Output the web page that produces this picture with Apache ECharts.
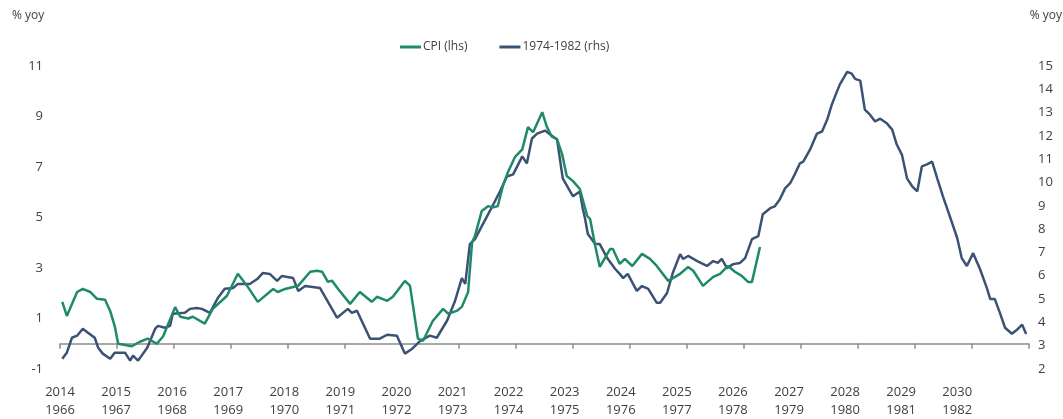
<!DOCTYPE html>
<html>
<head>
<meta charset="utf-8">
<script src="https://cdn.jsdelivr.net/npm/echarts@6/dist/echarts.min.js"></script>
<style>
html,body{margin:0;padding:0;background:#fff;}
#chart{width:1063px;height:419px;}
</style>
</head>
<body>
<div id="chart"></div>
<script>
// Tick labels
var yearsTop = ['2014','2015','2016','2017','2018','2019','2020','2021','2022','2023','2024','2025','2026','2027','2028','2029','2030'];
var yearsBottom = ['1966','1967','1968','1969','1970','1971','1972','1973','1974','1975','1976','1977','1978','1979','1980','1981','1982'];

// CPI (lhs): dates as decimal years, values % yoy
var cpiDates = [2014.04,2014.12,2014.30,2014.40,2014.53,2014.65,2014.79,2014.88,2014.96,2015.02,2015.26,2015.40,2015.54,2015.70,2015.81,2016.02,2016.11,2016.25,2016.33,2016.54,2016.68,2016.93,2017.12,2017.28,2017.47,2017.74,2017.82,2017.95,2018.18,2018.39,2018.51,2018.60,2018.70,2018.77,2018.88,2019.09,2019.26,2019.47,2019.56,2019.74,2019.84,2020.05,2020.14,2020.28,2020.37,2020.54,2020.72,2020.81,2020.96,2021.05,2021.16,2021.23,2021.28,2021.40,2021.51,2021.60,2021.68,2021.77,2021.86,2021.98,2022.11,2022.21,2022.30,2022.46,2022.54,2022.63,2022.72,2022.81,2022.89,2023.00,2023.12,2023.25,2023.30,2023.39,2023.47,2023.65,2023.70,2023.82,2023.91,2024.04,2024.21,2024.35,2024.47,2024.67,2024.88,2025.02,2025.11,2025.28,2025.46,2025.58,2025.72,2025.84,2025.96,2026.07,2026.14,2026.28];
var cpiValues = [1.66,1.1,2.05,2.17,2.05,1.78,1.74,1.3,0.7,0.0,-0.1,0.08,0.2,0.0,0.3,1.45,1.07,1.0,1.07,0.8,1.38,1.9,2.77,2.3,1.66,2.17,2.05,2.17,2.3,2.85,2.89,2.85,2.45,2.5,2.17,1.58,2.05,1.66,1.86,1.7,1.86,2.49,2.3,0.2,0.12,0.9,1.38,1.19,1.3,1.46,2.05,4.03,4.27,5.26,5.45,5.4,5.45,6.25,6.8,7.39,7.7,8.58,8.38,9.17,8.6,8.2,8.1,7.5,6.64,6.44,6.13,5.06,4.94,3.87,3.04,3.75,3.75,3.16,3.36,3.08,3.56,3.36,3.08,2.49,2.77,3.04,2.89,2.29,2.65,2.77,3.08,2.85,2.69,2.45,2.45,3.83];

// 1974-1982 (rhs): same time scale, values % yoy
var histDates = [2014.04,2014.12,2014.21,2014.30,2014.40,2014.49,2014.61,2014.67,2014.75,2014.88,2014.96,2015.14,2015.23,2015.28,2015.37,2015.53,2015.67,2015.72,2015.84,2015.93,2015.98,2016.19,2016.28,2016.40,2016.49,2016.63,2016.77,2016.89,2017.04,2017.12,2017.33,2017.46,2017.56,2017.68,2017.81,2017.89,2018.09,2018.18,2018.30,2018.56,2018.86,2019.05,2019.12,2019.21,2019.44,2019.61,2019.74,2019.91,2020.05,2020.18,2020.32,2020.49,2020.61,2020.79,2020.93,2021.05,2021.11,2021.19,2021.28,2021.54,2021.72,2021.84,2021.95,2022.11,2022.19,2022.28,2022.37,2022.51,2022.60,2022.72,2022.82,2022.95,2023.00,2023.12,2023.17,2023.21,2023.26,2023.39,2023.47,2023.60,2023.74,2023.82,2023.88,2023.96,2024.12,2024.21,2024.32,2024.47,2024.53,2024.65,2024.75,2024.88,2024.93,2025.02,2025.18,2025.35,2025.46,2025.54,2025.61,2025.70,2025.81,2025.93,2026.02,2026.14,2026.25,2026.33,2026.46,2026.54,2026.63,2026.72,2026.81,2026.89,2026.98,2027.04,2027.16,2027.28,2027.37,2027.46,2027.54,2027.63,2027.68,2027.81,2027.89,2027.95,2028.04,2028.12,2028.21,2028.30,2028.39,2028.51,2028.60,2028.68,2028.77,2028.86,2028.95,2029.04,2029.12,2029.21,2029.30,2029.39,2029.49,2029.61,2029.74,2029.82,2029.91,2030.02,2030.14,2030.26,2030.32,2030.40,2030.49,2030.58,2030.70,2030.81,2030.88,2030.95];
var histValues = [2.44,2.7,3.34,3.43,3.73,3.56,3.34,2.91,2.66,2.44,2.7,2.7,2.36,2.57,2.36,2.91,3.73,3.85,3.77,3.85,4.37,4.41,4.58,4.62,4.58,4.41,5.05,5.44,5.48,5.65,5.65,5.86,6.12,6.08,5.78,5.99,5.9,5.35,5.56,5.48,4.2,4.58,4.41,4.5,3.3,3.3,3.47,3.43,2.66,2.87,3.21,3.43,3.34,4.07,4.92,5.9,5.65,7.36,7.57,8.77,9.62,10.26,10.35,11.12,10.82,11.89,12.1,12.23,12.06,11.85,10.18,9.62,9.41,9.62,8.9,8.47,7.79,7.36,7.36,6.76,6.29,6.08,5.9,6.08,5.35,5.56,5.44,4.84,4.84,5.26,6.12,6.93,6.72,6.85,6.63,6.42,6.63,6.55,6.72,6.33,6.5,6.55,6.76,7.57,7.7,8.64,8.9,8.98,9.28,9.75,9.97,10.35,10.82,10.9,11.42,12.1,12.19,12.7,13.34,13.9,14.2,14.75,14.67,14.45,14.37,13.13,12.91,12.62,12.74,12.53,12.27,11.63,11.2,10.18,9.84,9.62,10.69,10.78,10.9,10.18,9.41,8.56,7.62,6.76,6.42,6.97,6.29,5.48,5.0,5.0,4.41,3.77,3.51,3.73,3.9,3.5];

function pairs(xs, ys){ return xs.map(function(x,i){ return [x, ys[i]]; }); }

var FONT = '"Open Sans", "Noto Sans", sans-serif';
var TXT = '#404040';
var GREEN = '#1f8a68';
var BLUE = '#3c5274';

var chart = echarts.init(document.getElementById('chart'), null, {renderer:'canvas'});
chart.setOption({
  animation: false,
  backgroundColor: '#ffffff',
  textStyle: {fontFamily: FONT},
  grid: {left: 60, right: 34, top: 66, bottom: 49, containLabel: false},
  legend: {
    left: 395, top: 36,
    icon: 'rect', itemWidth: 21, itemHeight: 3, itemGap: 32,
    textStyle: {fontFamily: FONT, fontSize: 12, color: TXT, padding: [0,0,0,-3]},
    data: ['CPI (lhs)', '1974-1982 (rhs)']
  },
  graphic: [
    {type:'text', left: 12, top: 10, style:{text:'% yoy', fontFamily: FONT, fontSize: 12, fill: TXT}},
    {type:'text', right: 1, top: 10, style:{text:'% yoy', fontFamily: FONT, fontSize: 12, fill: TXT}}
  ],
  xAxis: [
    {
      type: 'value', min: 2014, max: 2031, interval: 1,
      axisLine: {show: true, onZero: true, lineStyle: {color: '#8c8c8c', width: 1.5}},
      axisTick: {show: true, length: 5, lineStyle: {color: '#8c8c8c', width: 1.5}},
      axisLabel: {show: false},
      splitLine: {show: false}
    },
    {
      type: 'value', min: 2014, max: 2031.28, interval: 1, position: 'bottom',
      axisLine: {show: false, onZero: false},
      axisTick: {show: false},
      splitLine: {show: false},
      axisLabel: {
        show: true, margin: 14, color: TXT, fontFamily: FONT, fontSize: 13, lineHeight: 18,
        formatter: function(v){
          var i = Math.round(v - 2014);
          if (Math.abs(v - 2014 - i) > 0.01 || i < 0 || i >= yearsTop.length) return '';
          return yearsTop[i] + '\n' + yearsBottom[i];
        }
      }
    }
  ],
  yAxis: [
    {
      type: 'value', min: -1, max: 11, interval: 2, position: 'left',
      axisLine: {show: false}, axisTick: {show: false}, splitLine: {show: false},
      axisLabel: {margin: 17, color: TXT, fontFamily: FONT, fontSize: 13}
    },
    {
      type: 'value', min: 2, max: 15, interval: 1, position: 'right',
      axisLine: {show: false}, axisTick: {show: false}, splitLine: {show: false},
      axisLabel: {margin: 9, color: TXT, fontFamily: FONT, fontSize: 13}
    }
  ],
  series: [
    {
      name: 'CPI (lhs)', type: 'line', xAxisIndex: 0, yAxisIndex: 0,
      data: pairs(cpiDates, cpiValues), showSymbol: false, symbol: 'none',
      lineStyle: {color: GREEN, width: 2.5}, itemStyle: {color: GREEN}, z: 3
    },
    {
      name: '1974-1982 (rhs)', type: 'line', xAxisIndex: 0, yAxisIndex: 1,
      data: pairs(histDates, histValues), showSymbol: false, symbol: 'none',
      lineStyle: {color: BLUE, width: 2.5}, itemStyle: {color: BLUE}, z: 2
    }
  ]
});
</script>
</body>
</html>
